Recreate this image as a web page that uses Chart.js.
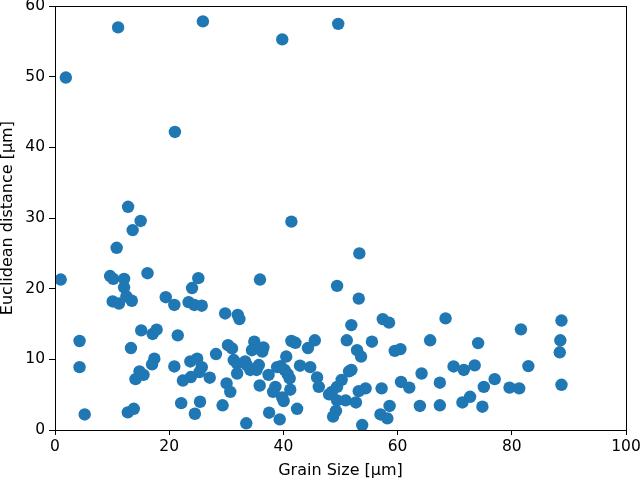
<!DOCTYPE html>
<html>
<head>
<meta charset="utf-8">
<script src="https://cdn.jsdelivr.net/npm/chart.js@4/dist/chart.umd.min.js"></script>
<style>
  html, body { margin: 0; padding: 0; background: #fff; }
  #wrap { width: 640px; height: 479px; position: relative; }
</style>
</head>
<body>
<div id="wrap"><canvas id="c" width="640" height="479"></canvas></div>
<script>
const grainSize = [
  1.0, 1.9, 11.05, 21.0, 25.9, 39.8, 49.6, 12.8, 15.0, 13.6,
  10.8, 16.2, 9.65, 10.2, 12.1, 12.1, 25.1, 24.0, 19.4, 10.1,
  11.2, 12.5, 13.45, 20.9, 23.4, 24.4, 25.7, 29.8, 32.0, 32.3,
  4.3, 4.3, 5.2, 15.1, 17.1, 17.8, 13.3, 21.5, 17.4, 17.0,
  14.8, 15.5, 14.1, 12.75, 13.8, 20.9, 23.7, 24.9, 25.7, 25.3,
  23.8, 22.4, 27.1, 28.2, 22.1, 25.4, 24.5, 29.35, 30.05, 30.7,
  30.3, 31.0, 31.3, 31.9, 41.4, 53.3, 35.9, 49.4, 53.2, 51.9,
  57.4, 58.5, 65.7, 51.1, 55.5, 52.9, 53.6, 59.5, 60.5, 64.2,
  60.6, 62.05, 57.2, 58.6, 63.9, 57.0, 58.2, 53.8, 54.4, 53.2,
  52.7, 51.5, 51.9, 50.2, 49.4, 48.5, 48.0, 49.4, 50.9, 49.2,
  48.7, 45.9, 46.2, 44.7, 45.5, 44.3, 42.9, 42.4, 41.4, 42.1,
  40.5, 41.2, 41.1, 40.75, 40.2, 39.5, 38.9, 39.8, 40.05, 38.6,
  38.2, 39.35, 37.5, 35.85, 37.4, 33.5, 33.3, 33.6, 34.2, 34.9,
  34.5, 36.3, 36.5, 35.7, 35.3, 31.9, 68.4, 88.7, 81.6, 74.1,
  88.5, 88.4, 69.8, 71.6, 73.5, 82.9, 67.4, 77.0, 75.1, 79.6,
  81.3, 88.7, 67.4, 71.35, 72.7, 74.85
];
const euclideanDistance = [
  21.3, 49.9, 57.0, 42.2, 57.85, 55.3, 57.5, 31.6, 29.6, 28.3,
  25.8, 22.2, 21.8, 21.4, 21.4, 20.2, 21.5, 20.1, 18.8, 18.2,
  17.9, 18.9, 18.3, 17.7, 18.1, 17.7, 17.6, 16.5, 16.3, 15.7,
  12.6, 8.9, 2.2, 14.1, 13.6, 14.2, 11.6, 13.4, 10.1, 9.3,
  8.3, 7.8, 7.2, 2.5, 3.0, 9.0, 9.7, 10.1, 8.9, 8.2,
  7.5, 7.0, 7.4, 10.75, 3.8, 4.0, 2.3, 3.5, 6.6, 5.4,
  12.0, 11.55, 9.9, 8.0, 29.5, 25.0, 21.3, 20.4, 18.6, 14.85,
  15.7, 15.2, 12.7, 12.7, 12.5, 11.3, 10.4, 11.2, 11.45, 8.0,
  6.8, 6.0, 5.9, 3.4, 3.4, 2.2, 1.65, 0.7, 5.9, 5.5,
  3.9, 8.3, 8.5, 7.1, 6.1, 5.4, 5.05, 4.2, 4.2, 2.7,
  1.9, 7.45, 6.1, 8.9, 12.7, 11.6, 9.1, 3.0, 12.6, 12.35,
  10.4, 5.7, 7.3, 7.9, 8.5, 9.05, 8.9, 4.6, 4.1, 6.1,
  5.4, 1.5, 2.45, 6.3, 7.8, 0.95, 9.7, 9.2, 8.5, 12.5,
  11.3, 11.1, 11.7, 9.2, 8.5, 9.4, 15.8, 15.5, 14.25, 12.3,
  12.7, 11.0, 9.0, 8.5, 9.15, 9.05, 6.7, 7.2, 6.1, 6.0,
  5.9, 6.4, 3.5, 3.9, 4.7, 3.3
];
const xTickValues = [0, 20, 40, 60, 80, 100];
const yTickValues = [0, 10, 20, 30, 40, 50, 60];
const xLabel = 'Grain Size [μm]';
const yLabel = 'Euclidean distance [μm]';

const points = grainSize.map((g, i) => ({ x: g, y: euclideanDistance[i] }));

const framePlugin = {
  id: 'frame',
  afterDraw(chart) {
    const a = chart.chartArea;
    const ctx = chart.ctx;
    ctx.save();
    ctx.strokeStyle = '#000';
    ctx.lineWidth = 1;
    ctx.strokeRect(Math.round(a.left) + 0.5, Math.round(a.top) + 0.5,
                   Math.round(a.right - a.left), Math.round(a.bottom - a.top));
    ctx.restore();
  }
};

const tickFont = { family: 'DejaVu Sans', size: 15.5 };
const titleFont = { family: 'DejaVu Sans', size: 16, lineHeight: 1 };

new Chart(document.getElementById('c'), {
  type: 'scatter',
  data: {
    datasets: [{
      data: points,
      backgroundColor: '#1f77b4',
      borderWidth: 0,
      pointRadius: 6.2,
      pointHoverRadius: 6.2
    }]
  },
  options: {
    responsive: false,
    animation: false,
    events: [],
    layout: { padding: { top: 6, right: 14, left: 0, bottom: 0 } },
    plugins: { legend: { display: false }, tooltip: { enabled: false } },
    scales: {
      x: {
        type: 'linear',
        min: 0, max: 100,
        afterBuildTicks(scale) { scale.ticks = xTickValues.map(v => ({ value: v })); },
        afterFit(scale) { scale.height = 49; scale.paddingLeft = 0; scale.paddingRight = 0; },
        grid: { drawOnChartArea: false, drawTicks: true, tickLength: 5, color: '#000' },
        border: { display: true, color: '#000' },
        ticks: { color: '#000', font: tickFont, padding: 3, maxRotation: 0 },
        title: { display: true, text: xLabel, color: '#000', font: titleFont, padding: { top: 0, bottom: 0 } }
      },
      y: {
        type: 'linear',
        min: 0, max: 60,
        afterBuildTicks(scale) { scale.ticks = yTickValues.map(v => ({ value: v })); },
        afterFit(scale) { scale.width = 55; scale.paddingTop = 0; scale.paddingBottom = 0; },
        grid: { drawOnChartArea: false, drawTicks: true, tickLength: 6, color: '#000' },
        border: { display: true, color: '#000' },
        ticks: { color: '#000', font: tickFont, padding: 4 },
        title: { display: true, text: yLabel, color: '#000', font: titleFont, padding: { top: 0, bottom: 0 } }
      }
    }
  },
  plugins: [framePlugin]
});
</script>
</body>
</html>
